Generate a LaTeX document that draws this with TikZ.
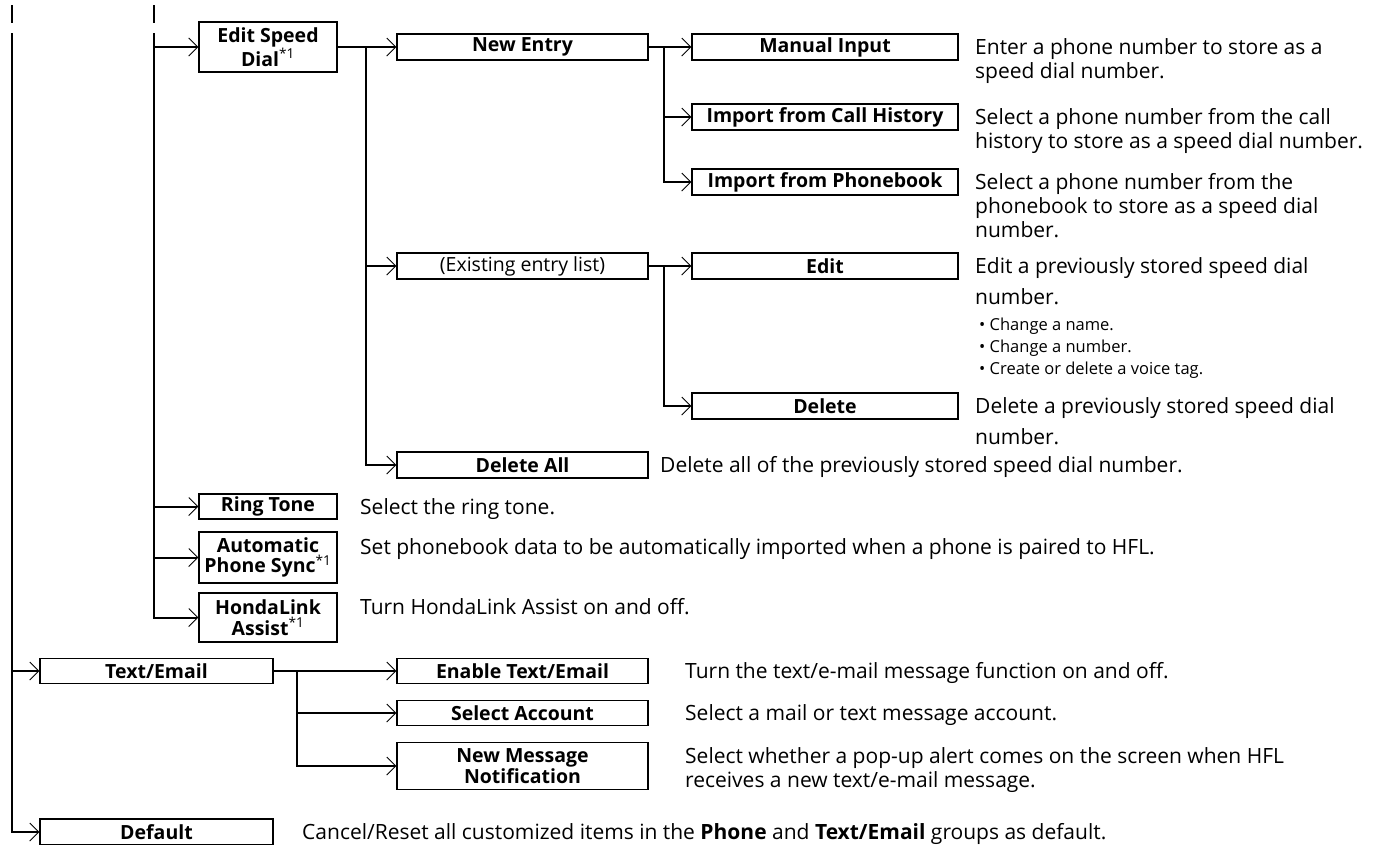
\documentclass[tikz,border=0pt]{standalone}
\usepackage{fontspec}
\setmainfont{Open Sans}
\usetikzlibrary{arrows.meta}
\newcommand\boxfont{\fontsize{19.5}{20.5}\selectfont\bfseries}
\newcommand\descfont{\fontsize{21}{24}\selectfont}
\newcommand\bulfont{\fontsize{16.5}{22}\selectfont}
\newcommand\sone{\textsuperscript{\mdseries *1}}
\tikzset{
  conn/.style={line width=2pt},
  arr/.style={conn, -{Straight Barb[length=9pt,width=18pt,line width=1pt]}},
  box/.style={draw, line width=1.1pt, inner sep=0pt, font=\boxfont, align=center},
  lvA/.style={box, minimum width=233pt},
  lvB/.style={box, minimum width=138pt},
  lvC/.style={box, minimum width=251pt},
  lvD/.style={box, minimum width=266pt},
  desc/.style={anchor=north west, inner sep=0pt, align=left, font=\descfont},
  bul/.style={anchor=north west, inner sep=0pt, align=left, font=\bulfont},
}
\begin{document}
\begin{tikzpicture}[x=1pt,y=-1pt]
\useasboundingbox (0,0) rectangle (1390,844);
% boxes
\node[lvB, minimum height=50pt] (esd) at (268,47) {Edit Speed\\Dial\sone};
\node[lvB, minimum height=25pt] (ring) at (268,506.5) {Ring Tone};
\node[lvB, minimum height=51pt] (auto) at (268,557.5) {Automatic\\Phone Sync\sone};
\node[lvB, minimum height=49pt] (honda) at (268,617.5) {HondaLink\\Assist\sone};
\node[lvC, minimum height=26pt] (newentry) at (522.5,47) {New Entry};
\node[lvC, minimum height=26pt, font=\fontsize{19.5}{20.5}\selectfont] (existing) at (522.5,266) {(Existing entry list)};
\node[lvC, minimum height=26pt] (deleteall) at (522.5,465) {Delete All};
\node[lvC, minimum height=25pt] (enable) at (522.5,671) {Enable Text/Email};
\node[lvC, minimum height=25pt] (selacc) at (522.5,713) {Select Account};
\node[lvC, minimum height=47pt] (newmsg) at (522.5,766) {New Message\\Notification};
\node[lvD, minimum height=26pt] (manual) at (825,47) {Manual Input};
\node[lvD, minimum height=26pt] (callhist) at (825,117) {Import from Call History};
\node[lvD, minimum height=26pt] (phonebook) at (825,182) {Import from Phonebook};
\node[lvD, minimum height=26pt] (edit) at (825,266) {Edit};
\node[lvD, minimum height=26pt] (delete) at (825,406) {Delete};
\node[lvA, minimum height=25pt] (textemail) at (156.5,671) {Text/Email};
\node[lvA, minimum height=26pt] (default) at (156.5,832) {Default};
% descriptions
\node[desc] (dmanual) at (975,37.7) {\strut Enter a phone number to store as a\\speed dial number.};
\node[desc] (dcall) at (975,107.7) {\strut Select a phone number from the call\\history to store as a speed dial number.};
\node[desc] (dphone) at (975,172.7) {\strut Select a phone number from the\\phonebook to store as a speed dial\\number.};
\node[desc] (dedit) at (975,256.7) {\strut Edit a previously stored speed dial\\[7pt]number.};
\node[bul] (dbul) at (979,314.5) {\strut\textbullet\ Change a name.\\\textbullet\ Change a number.\\\textbullet\ Create or delete a voice tag.};
\node[desc] (ddelete) at (975,396.7) {\strut Delete a previously stored speed dial\\[7pt]number.};
\node[desc] (ddelall) at (660,455.7) {\strut Delete all of the previously stored speed dial number.};
\node[desc] (dring) at (360,497.2) {\strut Select the ring tone.};
\node[desc] (dauto) at (360,537.7) {\strut Set phonebook data to be automatically imported when a phone is paired to HFL.};
\node[desc] (dhonda) at (360,597.7) {\strut Turn HondaLink Assist on and off.};
\node[desc] (denable) at (685,661.7) {\strut Turn the text/e-mail message function on and off.};
\node[desc] (dselacc) at (685,703.7) {\strut Select a mail or text message account.};
\node[desc] (dnewmsg) at (685,746.7) {\strut Select whether a pop-up alert comes on the screen when HFL\\receives a new text/e-mail message.};
\node[desc] (ddefault) at (302,822.7) {\strut Cancel/Reset all customized items in the \textbf{Phone} and \textbf{Text/Email} groups as default.};
% spine coordinates
\coordinate (a0) at (12,5);
\coordinate (a1) at (12,23);
\coordinate (atop) at (12,33);
\coordinate (b0) at (154,5);
\coordinate (b1) at (154,23);
\coordinate (btop) at (154,33);
\coordinate (s1) at (366,47);
\coordinate (s2) at (664,47);
\coordinate (s3) at (664,266);
\coordinate (s4) at (297,671);
% connectors
\draw[conn] (a0) -- (a1);
\draw[conn] (b0) -- (b1);
\draw[arr] (atop) |- (default.west);
\draw[arr] (atop |- textemail.west) -- (textemail.west);
\draw[arr] (btop) |- (honda.west);
\draw[arr] (btop |- esd.west) -- (esd.west);
\draw[arr] (btop |- ring.west) -- (ring.west);
\draw[arr] (btop |- auto.west) -- (auto.west);
\draw[arr] (esd.east) -- (newentry.west);
\draw[arr] (s1) |- (deleteall.west);
\draw[arr] (s1 |- existing.west) -- (existing.west);
\draw[arr] (newentry.east) -- (manual.west);
\draw[arr] (s2) |- (phonebook.west);
\draw[arr] (s2 |- callhist.west) -- (callhist.west);
\draw[arr] (existing.east) -- (edit.west);
\draw[arr] (s3) |- (delete.west);
\draw[arr] (textemail.east) -- (enable.west);
\draw[arr] (s4) |- (newmsg.west);
\draw[arr] (s4 |- selacc.west) -- (selacc.west);
\end{tikzpicture}
\end{document}
